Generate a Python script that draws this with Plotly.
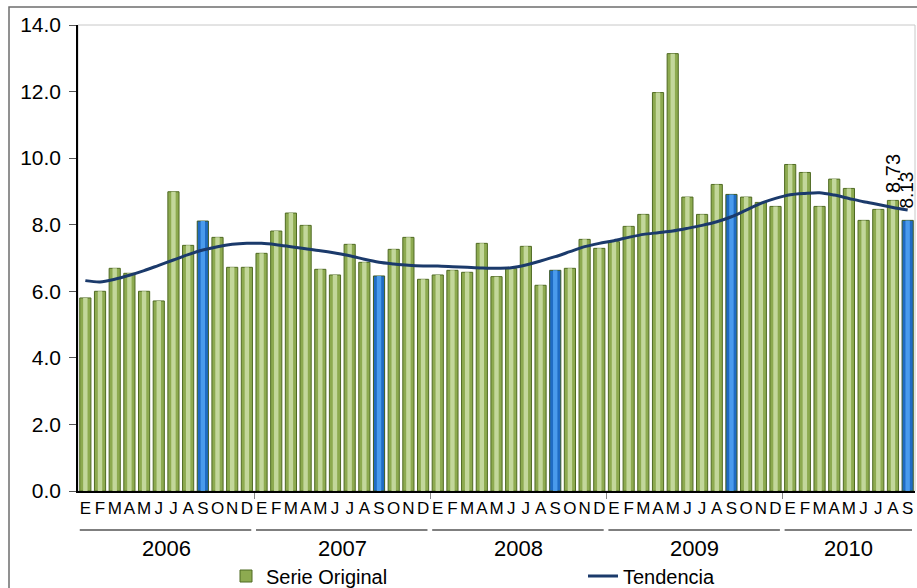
import plotly.graph_objects as go

years = ["2006", "2007", "2008", "2009", "2010"]
month_letters = ["E", "F", "M", "A", "M", "J", "J", "A", "S", "O", "N", "D"]

serie_2006 = [5.80, 6.00, 6.69, 6.54, 6.00, 5.71, 8.99, 7.38, 8.11, 7.62, 6.72, 6.72]
serie_2007 = [7.14, 7.81, 8.35, 7.98, 6.66, 6.49, 7.41, 6.87, 6.46, 7.26, 7.62, 6.36]
serie_2008 = [6.49, 6.63, 6.57, 7.44, 6.44, 6.68, 7.35, 6.18, 6.63, 6.69, 7.56, 7.29]
serie_2009 = [7.49, 7.95, 8.31, 11.97, 13.14, 8.83, 8.31, 9.21, 8.91, 8.83, 8.67, 8.55]
serie_2010 = [9.81, 9.57, 8.55, 9.37, 9.09, 8.13, 8.46, 8.73, 8.13]

tend_2006 = [6.32, 6.28, 6.36, 6.48, 6.62, 6.78, 6.94, 7.10, 7.24, 7.34, 7.41, 7.44]
tend_2007 = [7.44, 7.40, 7.34, 7.28, 7.22, 7.15, 7.07, 6.96, 6.87, 6.82, 6.78, 6.76]
tend_2008 = [6.76, 6.74, 6.72, 6.70, 6.69, 6.71, 6.79, 6.91, 7.04, 7.19, 7.34, 7.44]
tend_2009 = [7.52, 7.62, 7.71, 7.76, 7.81, 7.89, 7.98, 8.09, 8.24, 8.44, 8.64, 8.79]
tend_2010 = [8.90, 8.94, 8.96, 8.89, 8.79, 8.69, 8.61, 8.52, 8.44]

label_values = ["8.73", "8.13"]

series_by_year = [serie_2006, serie_2007, serie_2008, serie_2009, serie_2010]
serie = sum(series_by_year, [])
tendencia = tend_2006 + tend_2007 + tend_2008 + tend_2009 + tend_2010

n = len(serie)
x = list(range(n))
ticktext = [month_letters[i % 12] for i in x]
is_sep = [i % 12 == 8 for i in x]
base_colors = ["#1F6CC4" if s else "#8DAA50" for s in is_sep]
hi_colors = ["#4A9BEC" if s else "#C3D79B" for s in is_sep]
line_colors = ["#3E5A23" if s else "#4F6A22" for s in is_sep]

FONT = "Arial, Liberation Sans, sans-serif"

# plot geometry (px)
L, R, T, B = 78, 2, 25, 97
W, H = 917, 588
ph = H - T - B
pw = W - L - R

def py(px):
    return (H - B - px) / ph

def pxx(px):
    return (px - L) / pw

fig = go.Figure()
fig.add_trace(go.Bar(
    x=x, y=serie, name="Serie Original", width=0.76,
    marker=dict(color=base_colors, line=dict(color=line_colors, width=1)),
    legend="legend", hoverinfo="y"))
fig.add_trace(go.Bar(
    x=x, y=serie, name="hl", width=0.30,
    marker=dict(color=hi_colors, line=dict(width=0)),
    showlegend=False, hoverinfo="skip"))
fig.add_trace(go.Scatter(
    x=x, y=tendencia, name="Tendencia", mode="lines", legend="legend2",
    line=dict(color="#1B3A6B", width=3, shape="spline", smoothing=0.8)))
# invisible trace to activate the month-letter axis
fig.add_trace(go.Scatter(x=[0], y=[0], xaxis="x2", mode="markers",
                         marker=dict(opacity=0), showlegend=False, hoverinfo="skip"))

shapes = []
annotations = []
start = 0
for yr, vals in zip(years, series_by_year):
    end = start + len(vals) - 1
    shapes.append(dict(type="line", xref="x", yref="paper",
                       x0=start - 0.38, x1=end + 0.3, y0=py(530), y1=py(530),
                       line=dict(color="black", width=1.2)))
    annotations.append(dict(text=yr, xref="x", yref="paper",
                            x=(start + end) / 2, y=py(548), showarrow=False,
                            xanchor="center", yanchor="middle",
                            font=dict(size=22, color="black", family=FONT)))
    start = end + 1

shapes.append(dict(type="rect", xref="paper", yref="paper", x0=0, x1=1, y0=0, y1=1,
                   line=dict(color="#C8C8C8", width=1), layer="below"))
shapes.append(dict(type="rect", xref="paper", yref="paper",
                   x0=pxx(9), x1=1.2, y0=-0.5, y1=py(7),
                   line=dict(color="#6E6E6E", width=1.5), layer="below"))

annotations.append(dict(text=label_values[0], x=n - 2, y=serie[-2], xref="x", yref="y",
                        showarrow=False, textangle=-90, yanchor="bottom", xanchor="center",
                        yshift=6, font=dict(size=20, color="black", family=FONT)))
annotations.append(dict(text=label_values[1], x=n - 1, y=serie[-1], xref="x", yref="y",
                        showarrow=False, textangle=-90, yanchor="bottom", xanchor="center",
                        yshift=10, xshift=-1, font=dict(size=19, color="black", family=FONT)))

legend_common = dict(orientation="h", yanchor="middle", y=py(576), xanchor="left",
                     font=dict(size=20, family=FONT, color="black"),
                     bgcolor="rgba(0,0,0,0)", borderwidth=0)

fig.update_layout(
    width=W, height=H,
    margin=dict(l=L, r=R, t=T, b=B, autoexpand=False),
    paper_bgcolor="white", plot_bgcolor="white",
    barmode="overlay",
    font=dict(family=FONT, color="black"),
    showlegend=True,
    legend=dict(x=pxx(226), **legend_common),
    legend2=dict(x=pxx(583), **legend_common),
    xaxis=dict(range=[-0.5, n - 0.5], tickmode="array",
               tickvals=[i * 12 + 11.5 for i in range(len(years) - 1)],
               ticktext=["" for _ in range(len(years) - 1)],
               ticks="outside", ticklen=6, tickcolor="#888888", tickwidth=1,
               showgrid=False, zeroline=False, automargin=False,
               showline=True, linecolor="black", linewidth=1.5),
    xaxis2=dict(range=[-0.5, n - 0.5], overlaying="x", side="bottom",
                tickmode="array", tickvals=x, ticktext=ticktext, ticks="",
                tickangle=0, automargin=False,
                showgrid=False, zeroline=False, showline=False,
                tickfont=dict(size=17, color="black", family=FONT),
                ticklabelstandoff=5),
    yaxis=dict(range=[0, 14], dtick=2, tickformat=".1f",
               ticks="outside", ticklen=7, tickcolor="#555555",
               showgrid=False, zeroline=False, automargin=False,
               showline=True, linecolor="black", linewidth=1.5,
               tickfont=dict(size=21, color="black", family=FONT),
               ticklabelstandoff=4),
    shapes=shapes, annotations=annotations,
)

fig.write_html("out.html", config={"displayModeBar": False},
               post_script="document.body.style.margin='0px';document.body.style.overflow='hidden';")
